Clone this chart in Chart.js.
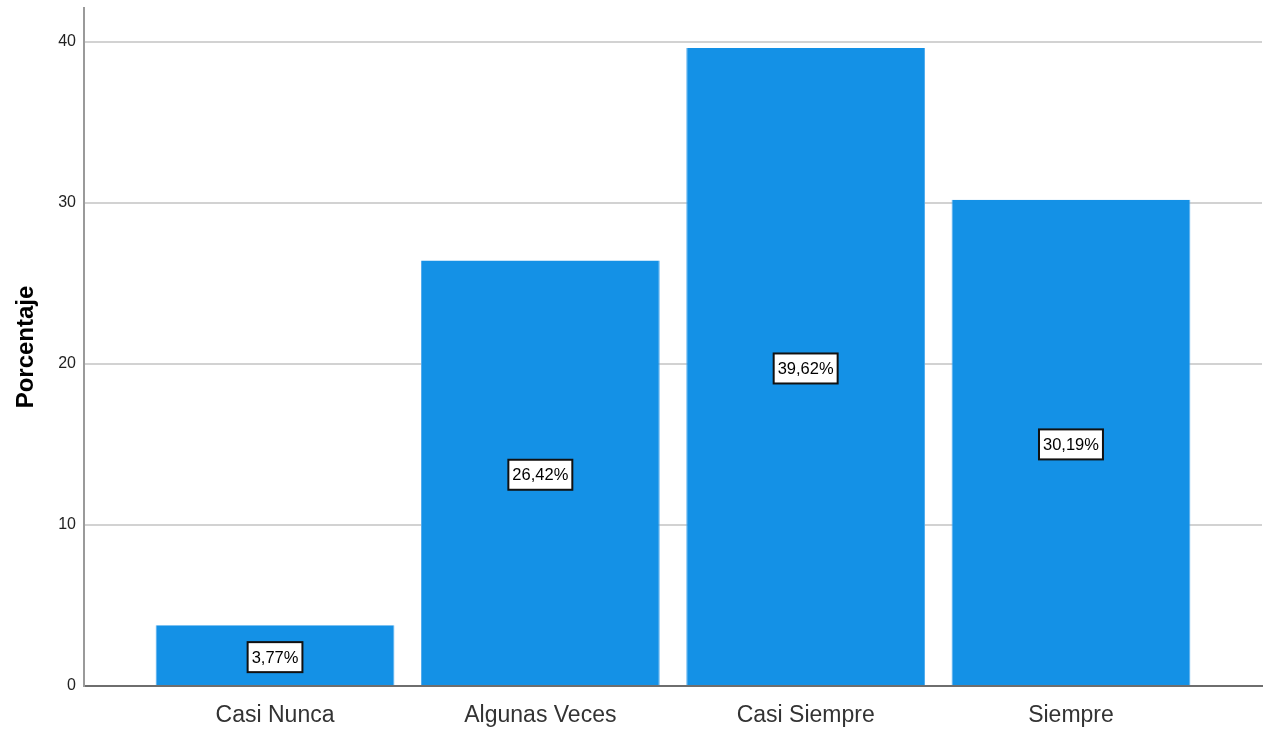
<!DOCTYPE html>
<html>
<head>
<meta charset="utf-8">
<title>Porcentaje</title>
<script src="https://cdn.jsdelivr.net/npm/chart.js@4/dist/chart.umd.min.js"></script>
<style>
    html, body { margin: 0; padding: 0; background: #fff; }
    #wrap { width: 1265px; height: 731px; }
</style>
</head>
<body>
<div id="wrap"><canvas id="freqChart"></canvas></div>
<script>
const categories = ['Casi Nunca', 'Algunas Veces', 'Casi Siempre', 'Siempre'];
const percentages = [3.77, 26.42, 39.62, 30.19];
const yTicks = [0, 10, 20, 30, 40];

const SANS = '"Liberation Sans", Arial, sans-serif';

// boxed percentage in the middle of every bar
const valueBoxes = {
    id: 'valueBoxes',
    afterDatasetsDraw(chart) {
        const ctx = chart.ctx;
        const meta = chart.getDatasetMeta(0);
        ctx.save();
        ctx.font = '16.5px ' + SANS;
        ctx.textAlign = 'center';
        ctx.textBaseline = 'middle';
        meta.data.forEach((bar, i) => {
            const text = percentages[i].toFixed(2).replace('.', ',') + '%';
            const cy = (bar.y + bar.base) / 2 + 2;
            const w = ctx.measureText(text).width + 8;
            const h = 30;
            ctx.fillStyle = '#fff';
            ctx.fillRect(bar.x - w / 2, cy - h / 2, w, h);
            ctx.lineWidth = 2;
            ctx.strokeStyle = '#111';
            ctx.strokeRect(bar.x - w / 2, cy - h / 2, w, h);
            ctx.fillStyle = '#000';
            ctx.fillText(text, bar.x, cy + 1);
        });
        ctx.restore();
    }
};

const ctx = document.getElementById('freqChart').getContext('2d');
const freqChart = new Chart(ctx, {
    type: 'bar',
    data: {
        datasets: [{
            data: percentages.map((v, i) => ({ x: i, y: v })),
            backgroundColor: '#1491e6',
            borderColor: '#4eaaee',
            borderWidth: { left: 1, top: 0, right: 1, bottom: 0 },
            barPercentage: 0.9,
            categoryPercentage: 1
        }]
    },
    options: {
        responsive: true,
        maintainAspectRatio: false,
        animation: false,
        layout: { padding: { top: 8, right: 3, left: 0, bottom: 0 } },
        plugins: {
            legend: { display: false },
            tooltip: { enabled: false }
        },
        scales: {
            x: {
                type: 'linear',
                offset: false,
                min: -0.72,
                max: 3.72,
                grid: { display: false, drawTicks: false },
                border: { color: '#6e6e6e', width: 2 },
                afterBuildTicks: scale => {
                    scale.ticks = categories.map((c, i) => ({ value: i }));
                },
                afterFit: scale => {
                    scale.height = 45;
                    scale.paddingLeft = 0;
                    scale.paddingRight = 0;
                },
                ticks: {
                    autoSkip: false,
                    maxRotation: 0,
                    padding: 16,
                    color: '#333',
                    font: { family: SANS, size: 23 },
                    callback: value => categories[value]
                }
            },
            y: {
                min: 0,
                max: 42.1,
                grid: {
                    drawTicks: false,
                    lineWidth: 2,
                    color: c => c.tick && c.tick.value === 0 ? 'rgba(0,0,0,0)' : '#d2d2d2'
                },
                border: { color: '#9a9a9a', width: 2 },
                afterBuildTicks: scale => {
                    scale.ticks = yTicks.map(v => ({ value: v }));
                },
                afterFit: scale => {
                    scale.width = 84;
                    scale.paddingTop = 0;
                    scale.paddingBottom = 0;
                },
                ticks: {
                    padding: 8,
                    color: '#222',
                    font: { family: SANS, size: 16 }
                },
                title: {
                    display: true,
                    text: 'Porcentaje',
                    color: '#000',
                    padding: { top: 12, bottom: 0 },
                    font: { family: SANS, size: 24, weight: 'bold' }
                }
            }
        }
    },
    plugins: [valueBoxes]
});
</script>
</body>
</html>
